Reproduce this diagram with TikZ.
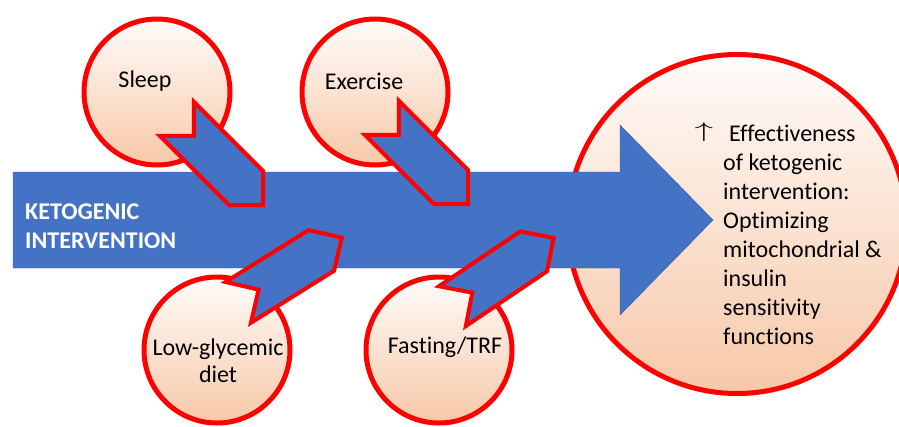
\documentclass[tikz,border=0pt]{standalone}
\usepackage{fontspec}
\setmainfont{Carlito}[Ligatures=NoCommon]
\usetikzlibrary{shapes.symbols}

\definecolor{ketoblue}{RGB}{68,114,196}
\definecolor{ketored}{RGB}{255,0,0}
\definecolor{peach}{RGB}{247,200,168}

\tikzset{
  factor/.style={circle, draw=ketored, line width=5pt, top color=peach!6, bottom color=peach,
    minimum size=146pt, inner sep=0pt},
  feeder/.style={signal, signal from=west, signal to=east, draw=ketored, line width=4pt,
    fill=ketoblue, minimum width=122pt, minimum height=48pt, inner sep=0pt, line join=miter},
  factortext/.style={font=\fontsize{24}{27}\selectfont, align=center, inner sep=0pt}
}

\begin{document}
\begin{tikzpicture}[x=1pt, y=-1pt]
    \useasboundingbox (0,0) rectangle (899,426);

    % the factors round the intervention
    \node[factor] (sleep) at (157,92) {};
    \node[factor] (exer) at (375,92) {};
    \node[factor] (lowgi) at (217,350) {};
    \node[factor] (fast) at (439,350) {};
    \node[factor, minimum size=339pt] (goal) at (737,224) {};

    % main arrow
    \coordinate (tail) at (13,220);
    \coordinate (tip) at (713,220);
    \fill[ketoblue, draw=ketoblue!80!black, line width=0.4pt]
        (13,172) -- (620,172) -- (620,125) -- (tip) -- (620,315) -- (620,268) -- (13,268) -- cycle;

    % arrows feeding into it
    \node[feeder, rotate=-45] (sleeparr) at (220,162) {};
    \node[feeder, rotate=-45] (exerarr) at (425,161) {};
    \node[feeder, rotate=32] (lowgiarr) at (290,270) {};
    \node[feeder, rotate=34] (fastarr) at (503,272) {};

    % texts
    \node[factortext] (sleeptxt) at (145,81) {Sleep};
    \node[factortext] (exertxt) at (364,81) {Exercise};
    \node[factortext] (lowgitxt) at (218,361) {Low-glycemic\\diet};
    \node[factortext] (fasttxt) at (445,347) {Fasting/TRF};
    \node[anchor=west, align=left, text=white, inner sep=0pt,
          font=\bfseries\fontsize{24}{29}\selectfont] (keto) at (25,226) {KETOGENIC\\INTERVENTION};
    \node[anchor=north west, align=left, inner sep=0pt,
          font=\fontsize{24}{29}\selectfont] (goaltxt) at (723,125)
        {\llap{\smash{\raisebox{4pt}{\scalebox{1.5}[0.85]{$\uparrow$}}}\hspace{10pt}}\hspace{6pt}Effectiveness\\of ketogenic\\intervention:\\Optimizing\\mitochondrial \&\\insulin\\sensitivity\\functions};
\end{tikzpicture}
\end{document}
